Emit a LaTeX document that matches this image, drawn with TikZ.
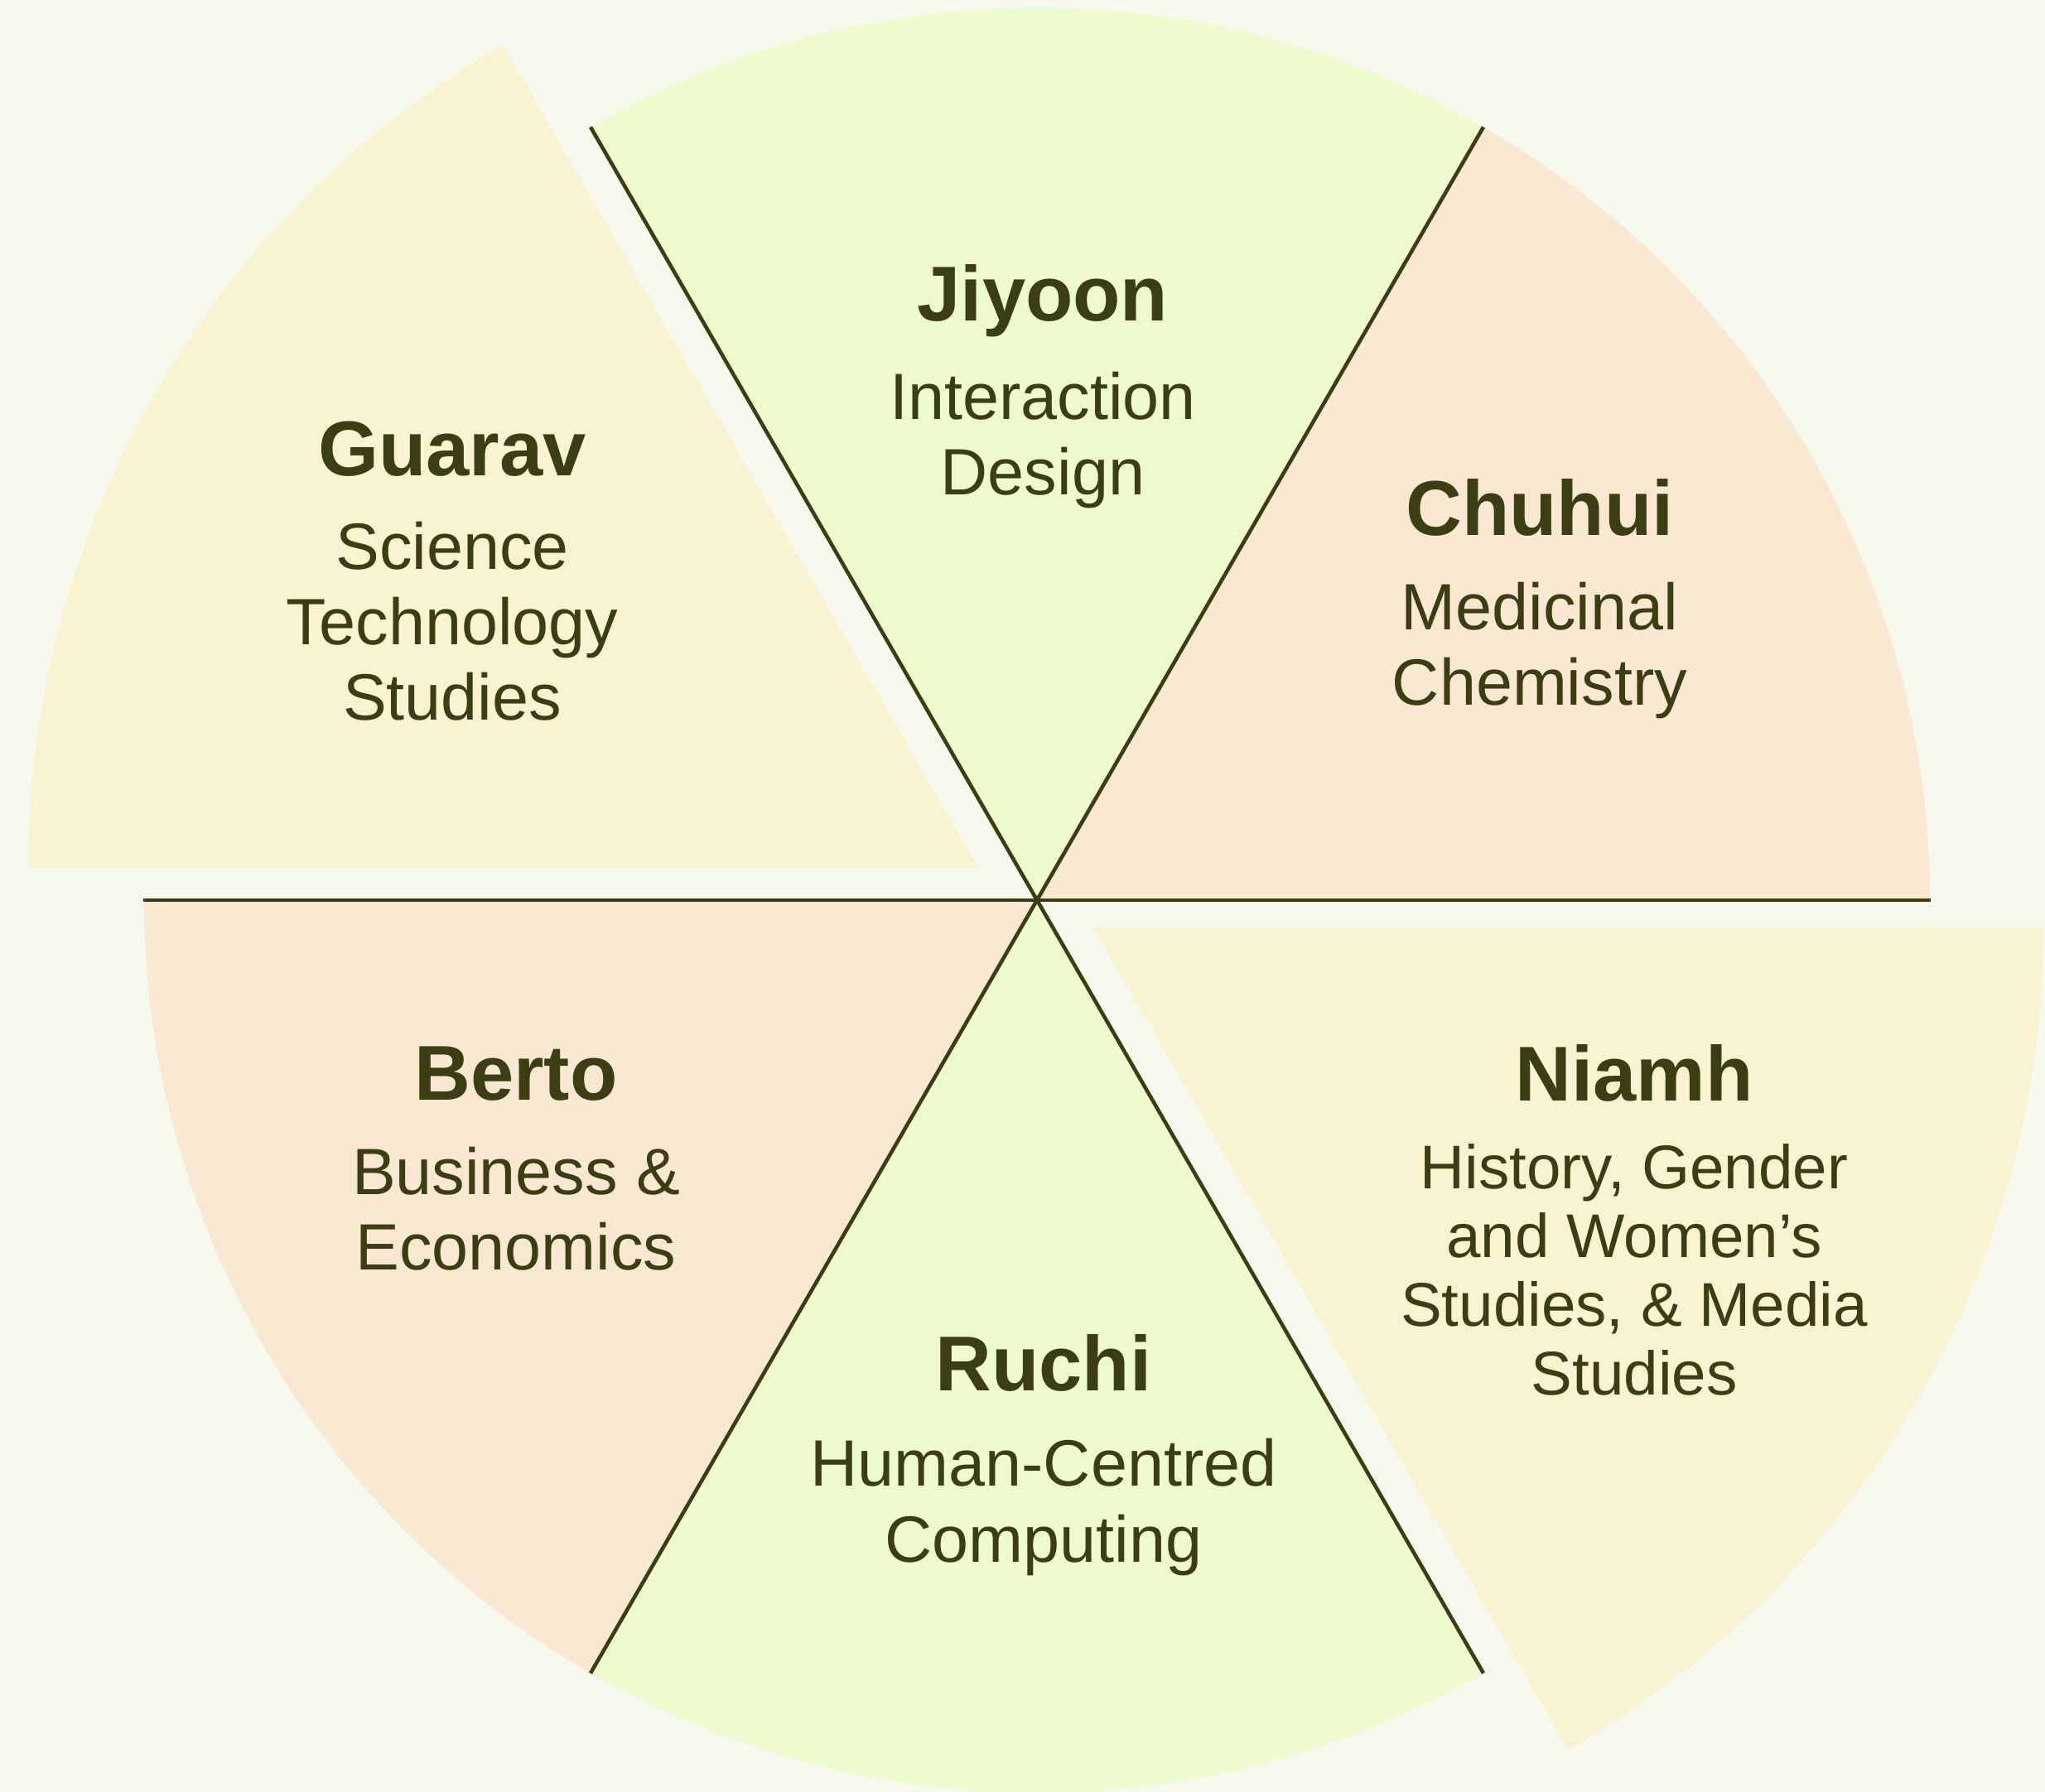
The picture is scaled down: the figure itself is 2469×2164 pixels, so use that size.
\documentclass[tikz,border=0pt]{standalone}
\usepackage{fontspec}
\setmainfont{Liberation Sans}
\definecolor{pagebg}{HTML}{F7F9EE}
\definecolor{limefill}{HTML}{EEFBCE}
\definecolor{peachfill}{HTML}{FAE8D2}
\definecolor{creamfill}{HTML}{F9F3D2}
\definecolor{olivetext}{HTML}{3B3D13}

\begin{document}
\begin{tikzpicture}[x=0.01cm, y=0.01cm,
        spoke/.style={draw=olivetext, line width=1.3pt},
        person/.style={text=olivetext, font=\fontsize{26.7}{32}\selectfont\bfseries, anchor=base, inner sep=0pt},
        field/.style={text=olivetext, font=\fontsize{22.5}{25.9}\selectfont, align=center, anchor=base, inner sep=0pt}]
        % Background
        \path[use as bounding box, fill=pagebg] (-1252,-1077) rectangle (1217,1087);

        % Sectors
        \fill[limefill] (0,0) -- (60:1078) arc[start angle=60, end angle=120, radius=1078] -- cycle;
        \fill[peachfill] (0,0) -- (0:1078) arc[start angle=0, end angle=60, radius=1078] -- cycle;
        \fill[peachfill] (0,0) -- (180:1078) arc[start angle=180, end angle=240, radius=1078] -- cycle;
        \fill[limefill] (0,0) -- (240:1078) arc[start angle=240, end angle=300, radius=1078] -- cycle;
        \fill[creamfill, shift={(-71,39)}] (0,0) -- (120:1147) arc[start angle=120, end angle=180, radius=1147] -- cycle;
        \fill[creamfill, shift={(68,-33)}] (0,0) -- (300:1147) arc[start angle=300, end angle=360, radius=1147] -- cycle;

        % Spoke ends
        \coordinate (hub) at (0,0);
        \coordinate (w) at (180:1079);
        \coordinate (e) at (0:1079);
        \coordinate (nw) at (120:1078);
        \coordinate (ne) at (60:1078);
        \coordinate (sw) at (240:1078);
        \coordinate (se) at (300:1078);

        % Lines
        \draw[spoke] (w) -- (e);
        \draw[spoke] (nw) -- (se);
        \draw[spoke] (ne) -- (sw);

        % Nodes (field nodes sit on the baseline of their last line)
        \node[person] (jiyoon) at (7,699) {Jiyoon};
        \node[field] (jiyoon-field) at (7,489) {Interaction\\Design};
        \node[person] (guarav) at (-706,512) {Guarav};
        \node[field] (guarav-field) at (-706,217) {Science\\Technology\\Studies};
        \node[person] (chuhui) at (607,440) {Chuhui};
        \node[field] (chuhui-field) at (607,235) {Medicinal\\Chemistry};
        \node[person] (berto) at (-629,-242) {Berto};
        \node[field] (berto-field) at (-629,-447) {Business \&\\Economics};
        \node[person] (niamh) at (721,-243) {Niamh};
        \node[field, font=\fontsize{21.2}{23.6}\selectfont] (niamh-field) at (721,-597) {History, Gender\\and Women’s\\Studies, \& Media\\Studies};
        \node[person] (ruchi) at (8,-593) {Ruchi};
        \node[field] (ruchi-field) at (8,-799) {Human-Centred\\Computing};
    \end{tikzpicture}
\end{document}
